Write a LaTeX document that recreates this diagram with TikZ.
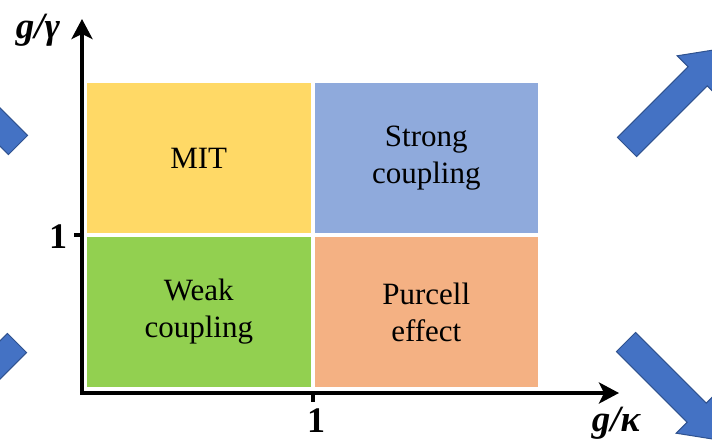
\documentclass[tikz,border=0pt]{standalone}
\usepackage{fontspec}
\setmainfont{Liberation Serif}
\usetikzlibrary{arrows.meta,positioning}
\definecolor{mityellow}{HTML}{FFD966}
\definecolor{strongblue}{HTML}{8FAADC}
\definecolor{weakgreen}{HTML}{92D050}
\definecolor{purcellorange}{HTML}{F4B183}
\definecolor{arrowblue}{HTML}{4472C4}
\definecolor{arrowblued}{HTML}{2F528F}

\begin{document}
\begin{tikzpicture}[x=1pt,y=-1pt,
    cell/.style={minimum width=223.5pt,minimum height=150pt,inner sep=0pt,outer sep=0pt,
      align=center,font=\fontsize{31}{37}\selectfont},
    axis/.style={line width=4pt,line cap=rect},
    ticklab/.style={font=\fontsize{36}{36}\selectfont\bfseries},
    axlab/.style={font=\fontsize{37}{37}\selectfont\bfseries\itshape},
    bigarrow/.style={fill=arrowblue,draw=arrowblued,line width=1pt,line join=miter}]
  \useasboundingbox (0,0) rectangle (712,440);
  % outer arrows, cut at the border
  \begin{scope}
    \clip (0,0) rectangle (712,440);
    \foreach \x/\y/\a in {627/147/45,626/342/-45,18/145/135,17/343/225}
      \draw[bigarrow,shift={(\x,\y)},rotate=\a]
        (0,-13.5)--(100,-13.5)--(100,-29)--(140,0)--(100,29)--(100,13.5)--(0,13.5)--cycle;
  \end{scope}
  % regimes
  \node[cell,fill=mityellow] (mit) at (198.75,158) {MIT};
  \node[cell,fill=strongblue,right=4pt of mit] (strong) {Strong\\coupling};
  \node[cell,fill=weakgreen,below=4pt of mit] (weak) {Weak\\coupling};
  \node[cell,fill=purcellorange,below=4pt of strong] (purcell) {Purcell\\effect};
  % axes
  \coordinate(o)at(82,393);\coordinate(ytip)at(82,19);\coordinate(xtip)at(619,393);
  \coordinate(ytick)at(82,235);\coordinate(xtick)at(313,393);
  \draw[axis,{Stealth[length=20pt,width=21pt,inset=5pt]}-{Stealth[length=20pt,width=21pt,inset=5pt]}]
    (ytip)--(o)--(xtip);
  \draw[line width=4pt] (ytick)--++(-8,0) (xtick)--++(0,9);
  \node[ticklab] (yone) at (58,237) {1};
  \node[ticklab] (xone) at (316,421) {1};
  \node[axlab] (ylab) at (38,30) {g/γ};
  \node[axlab] (xlab) at (616,423) {g/κ};
\end{tikzpicture}
\end{document}
